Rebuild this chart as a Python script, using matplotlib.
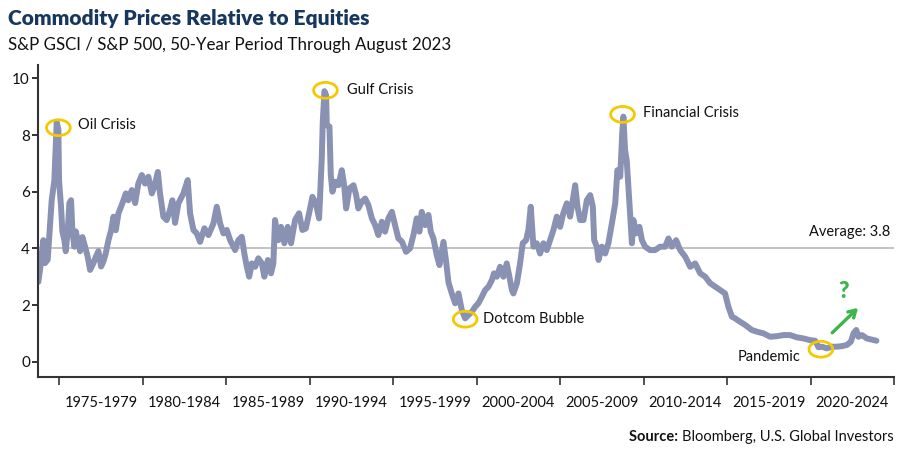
import numpy as np
import matplotlib
matplotlib.use("Agg")
import matplotlib.pyplot as plt
from matplotlib.patches import Ellipse

plt.rcParams['font.family'] = ['Lato', 'DejaVu Sans']

# S&P GSCI / S&P 500 ratio
years = [
    1973.74, 1973.84, 1974.04, 1974.14, 1974.30, 1974.54, 1974.70, 1974.84, 1974.94, 1974.98,
    1975.10, 1975.18, 1975.30, 1975.38, 1975.50, 1975.60, 1975.70, 1975.78, 1975.90, 1975.98,
    1976.10, 1976.24, 1976.38, 1976.54, 1976.70, 1976.84, 1977.04, 1977.18, 1977.34, 1977.50,
    1977.64, 1977.78, 1977.94, 1978.10, 1978.24, 1978.38, 1978.54, 1978.78, 1978.98, 1979.13,
    1979.34, 1979.54, 1979.73, 1979.94, 1980.13, 1980.33, 1980.54, 1980.69, 1980.90, 1981.03,
    1981.23, 1981.43, 1981.63, 1981.77, 1981.93, 1982.13, 1982.43, 1982.69, 1982.83, 1983.03,
    1983.23, 1983.43, 1983.69, 1983.93, 1984.23, 1984.43, 1984.63, 1984.83, 1985.03, 1985.23,
    1985.53, 1985.72, 1985.93, 1986.08, 1986.23, 1986.37, 1986.53, 1986.73, 1986.92, 1987.13,
    1987.28, 1987.49, 1987.68, 1987.82, 1987.92, 1988.12, 1988.28, 1988.48, 1988.68, 1988.88,
    1989.12, 1989.36, 1989.56, 1989.76, 1989.96, 1990.16, 1990.36, 1990.56, 1990.72, 1990.78,
    1990.88, 1990.98, 1991.02, 1991.18, 1991.26, 1991.36, 1991.52, 1991.72, 1991.92, 1992.06,
    1992.18, 1992.38, 1992.62, 1992.78, 1992.91, 1993.12, 1993.32, 1993.51, 1993.72, 1993.92,
    1994.11, 1994.32, 1994.51, 1994.71, 1994.92, 1995.11, 1995.31, 1995.52, 1995.77, 1996.01,
    1996.21, 1996.41, 1996.57, 1996.71, 1996.91, 1997.11, 1997.25, 1997.41, 1997.61, 1997.77,
    1997.91, 1998.01, 1998.17, 1998.31, 1998.51, 1998.71, 1998.91, 1999.11, 1999.31, 1999.51,
    1999.71, 1999.91, 2000.10, 2000.31, 2000.51, 2000.71, 2000.91, 2001.04, 2001.21, 2001.40,
    2001.60, 2001.80, 2001.96, 2002.11, 2002.20, 2002.41, 2002.60, 2002.76, 2002.96, 2003.10,
    2003.24, 2003.40, 2003.60, 2003.80, 2004.00, 2004.20, 2004.40, 2004.60, 2004.80, 2005.00,
    2005.19, 2005.40, 2005.60, 2005.76, 2005.90, 2006.04, 2006.20, 2006.40, 2006.60, 2006.80,
    2006.96, 2007.04, 2007.20, 2007.30, 2007.50, 2007.70, 2007.89, 2008.10, 2008.30, 2008.43,
    2008.60, 2008.72, 2008.79, 2008.89, 2008.99, 2009.09, 2009.19, 2009.30, 2009.39, 2009.55,
    2009.75, 2009.90, 2010.09, 2010.39, 2010.69, 2010.99, 2011.29, 2011.49, 2011.69, 2011.95,
    2012.19, 2012.49, 2012.79, 2013.09, 2013.39, 2013.69, 2013.99, 2014.29, 2014.59, 2014.88,
    2015.08, 2015.29, 2015.48, 2015.78, 2016.08, 2016.48, 2016.78, 2017.18, 2017.58, 2017.98,
    2018.38, 2018.78, 2019.18, 2019.58, 2019.98, 2020.28, 2020.48, 2020.68, 2020.98, 2021.28,
    2021.58, 2021.88, 2022.18, 2022.42, 2022.58, 2022.74, 2022.87, 2023.08, 2023.38, 2023.68,
    2023.95,
]
ratio = [
    2.82, 3.24, 4.29, 3.48, 3.60, 5.70, 6.40, 8.45, 8.20, 6.40,
    5.47, 4.60, 4.29, 3.90, 4.60, 5.60, 5.70, 4.60, 4.06, 4.60,
    4.30, 3.90, 4.40, 4.06, 3.70, 3.24, 3.48, 3.70, 3.90, 3.36,
    3.54, 3.83, 4.29, 4.64, 5.12, 4.64, 5.24, 5.60, 5.94, 5.70,
    6.06, 5.60, 6.29, 6.59, 6.29, 6.53, 5.94, 6.18, 6.70, 5.94,
    5.12, 5.00, 5.36, 5.70, 4.90, 5.59, 5.94, 6.41, 5.24, 4.65,
    4.53, 4.23, 4.71, 4.47, 4.88, 5.47, 4.88, 4.53, 4.65, 4.29,
    3.94, 4.29, 4.41, 3.82, 3.35, 3.00, 3.47, 3.35, 3.65, 3.47,
    3.00, 3.59, 3.12, 3.47, 5.00, 4.29, 4.76, 4.18, 4.76, 4.18,
    5.00, 5.24, 4.65, 4.70, 5.24, 5.82, 5.60, 5.06, 7.18, 8.47,
    9.55, 9.41, 8.35, 8.30, 6.59, 6.00, 6.35, 6.23, 6.76, 6.23,
    5.41, 6.12, 6.23, 5.88, 5.41, 5.65, 5.76, 5.53, 5.06, 4.82,
    4.47, 4.94, 4.59, 5.06, 5.29, 4.82, 4.35, 4.24, 3.88, 4.00,
    4.47, 5.06, 4.59, 5.29, 4.82, 5.18, 4.59, 4.35, 3.76, 3.41,
    3.88, 4.23, 3.53, 2.80, 2.41, 2.06, 2.41, 1.82, 1.53, 1.65,
    1.76, 1.94, 2.06, 2.29, 2.53, 2.65, 2.88, 3.12, 3.00, 3.35,
    3.00, 3.47, 3.00, 2.53, 2.41, 2.77, 3.47, 4.18, 4.29, 4.65,
    5.47, 4.06, 4.18, 3.82, 4.18, 3.94, 4.29, 4.65, 5.12, 4.76,
    5.24, 5.59, 5.12, 5.71, 6.23, 5.47, 5.00, 5.00, 5.70, 5.88,
    5.47, 4.29, 4.06, 3.59, 4.06, 3.82, 4.18, 4.88, 5.59, 6.76,
    6.53, 8.06, 8.65, 7.47, 7.10, 6.18, 5.24, 4.18, 5.00, 4.53,
    4.76, 4.29, 4.06, 3.94, 3.94, 4.06, 4.06, 4.35, 4.06, 4.29,
    3.94, 3.71, 3.35, 3.47, 3.12, 3.00, 2.77, 2.65, 2.53, 2.41,
    1.94, 1.59, 1.53, 1.41, 1.30, 1.12, 1.06, 1.00, 0.88, 0.90,
    0.94, 0.94, 0.86, 0.82, 0.76, 0.74, 0.51, 0.53, 0.47, 0.53,
    0.53, 0.55, 0.59, 0.71, 1.00, 1.12, 0.88, 0.94, 0.82, 0.78,
    0.74,
]

average = 4.0
period_ticks = [1975, 1980, 1985, 1990, 1995, 2000, 2005, 2010, 2015, 2020, 2025]
period_labels = ["1975-1979", "1980-1984", "1985-1989", "1990-1994", "1995-1999",
                 "2000-2004", "2005-2009", "2010-2014", "2015-2019", "2020-2024"]

# events: (label, circle year, circle value, text year, text value)
events = [
    ("Oil Crisis", 1974.94, 8.26, 1976.14, 8.36),
    ("Gulf Crisis", 1990.94, 9.58, 1992.22, 9.59),
    ("Financial Crisis", 2008.74, 8.73, 2009.95, 8.79),
    ("Dotcom Bubble", 1999.31, 1.50, 2000.40, 1.50),
    ("Pandemic", 2020.62, 0.44, 2015.65, 0.18),
]

line_color = "#8A92B4"
yellow = "#F5C800"
green = "#3DB54A"
navy = "#17375E"

fig = plt.figure(figsize=(9, 4.49), dpi=100)
ax = fig.add_axes([0.0426, 0.161, 0.9507, 0.694])

ax.axhline(average, color="#BDBDBD", lw=1.3, zorder=1)
ax.plot(years, ratio, color=line_color, lw=4.3, solid_joinstyle="round",
        solid_capstyle="round", zorder=2)

for name, cx, cy, tx, ty in events:
    ax.add_patch(Ellipse((cx, cy), 1.42, 0.56, fill=False, edgecolor=yellow,
                         lw=2.0, zorder=3))
    ax.text(tx, ty, name, fontsize=10.5, color="#111111", ha="left", va="center")

ax.text(2024.77, 4.57, "Average: 3.8", fontsize=10.5, color="#111111",
        ha="right", va="center")

ax.annotate("", xy=(2022.85, 1.9), xytext=(2021.3, 1.02),
            arrowprops=dict(arrowstyle="->,head_length=0.5,head_width=0.3",
                            color=green, lw=2.4, shrinkA=0, shrinkB=0))
ax.text(2022.0, 2.47, "?", fontsize=16, fontweight="heavy", color=green,
        ha="center", va="center")

ax.set_xlim(1973.74, 2025.0)
ax.set_ylim(-0.53, 10.47)

ax.set_yticks([0, 2, 4, 6, 8, 10])
ax.tick_params(axis="y", length=4, width=1.2, pad=2, labelsize=11, colors="#111111")

ax.set_xticks(period_ticks)
ax.set_xticklabels([])
ax.set_xticks([t + 2.5 for t in period_ticks[:-1]], minor=True)
ax.set_xticklabels(period_labels, minor=True)
ax.tick_params(axis="x", which="major", length=6, width=1.2, color="#333333")
ax.tick_params(axis="x", which="minor", length=0, pad=14, labelsize=10.5,
               labelcolor="#111111")

for side in ["top", "right"]:
    ax.spines[side].set_visible(False)
for side in ["left", "bottom"]:
    ax.spines[side].set_color("#333333")
    ax.spines[side].set_linewidth(1.5)

fig.text(0.009, 0.958, "Commodity Prices Relative to Equities", fontsize=15,
         fontweight="heavy", color=navy, va="center")
fig.text(0.009, 0.9, "S&P GSCI / S&P 500, 50-Year Period Through August 2023",
         fontsize=12.2, color="#111111", va="center")

src = fig.text(0.993, 0.027, "Bloomberg, U.S. Global Investors", fontsize=10.5,
               color="#111111", ha="right", va="center")
fig.canvas.draw()
bb = src.get_window_extent().transformed(fig.transFigure.inverted())
fig.text(bb.x0, 0.027, "Source: ", fontsize=10.5, fontweight="bold",
         color="#111111", ha="right", va="center")

fig.savefig("out.png", dpi=100)
